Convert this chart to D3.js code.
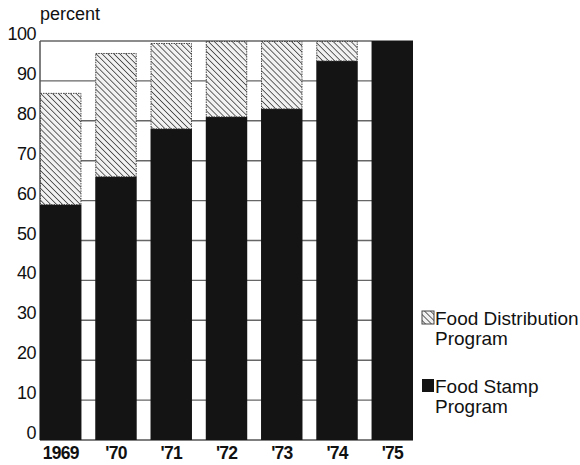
<!DOCTYPE html>
<html>
<head>
<meta charset="utf-8">
<script src="https://cdn.jsdelivr.net/npm/d3@7"></script>
<style>
  html, body { margin: 0; padding: 0; background: #fff; }
  svg { display: block; }
  text { font-family: "Liberation Sans", Arial, Helvetica, sans-serif; fill: #111; }
</style>
</head>
<body>
<svg id="chart" width="580" height="465"></svg>
<script>
const years = ["1969", "'70", "'71", "'72", "'73", "'74", "'75"];
const foodStamp = [59, 66, 78, 81, 83, 95, 100];
const foodDistribution = [28, 31, 21.5, 19, 17, 5, 0];
const yTicks = [0, 10, 20, 30, 40, 50, 60, 70, 80, 90, 100];
const legendLabels = [["Food Distribution", "Program"], ["Food Stamp", "Program"]];

const svg = d3.select("#chart");
const plotLeft = 40, plotRight = 413, plotTop = 41, plotBottom = 440;

const x = d3.scaleBand().domain(years).range([plotLeft, plotRight]).paddingInner(0.25).paddingOuter(0);
const y = d3.scaleLinear().domain([0, 100]).range([plotBottom, plotTop]);

// hatch pattern
const defs = svg.append("defs");
const pat = defs.append("pattern")
  .attr("id", "hatch").attr("patternUnits", "userSpaceOnUse")
  .attr("width", 4.2).attr("height", 4.2)
  .attr("patternTransform", "rotate(-45)");
pat.append("rect").attr("width", 4.2).attr("height", 4.2).attr("fill", "#f2f2f2");
pat.append("line").attr("x1", 0).attr("y1", 0).attr("x2", 0).attr("y2", 4.2)
  .attr("stroke", "#4a4a4a").attr("stroke-width", 1.7);

// gridlines
svg.append("g").selectAll("line").data(yTicks.filter(d => d > 0)).join("line")
  .attr("x1", plotLeft).attr("x2", plotRight)
  .attr("y1", d => y(d)).attr("y2", d => y(d))
  .attr("stroke", "#666").attr("stroke-width", 1.4);

// axis lines
svg.append("line").attr("x1", plotLeft).attr("x2", plotLeft).attr("y1", y(100)).attr("y2", plotBottom)
  .attr("stroke", "#555").attr("stroke-width", 1.5);
svg.append("line").attr("x1", plotLeft).attr("x2", plotRight).attr("y1", plotBottom).attr("y2", plotBottom)
  .attr("stroke", "#555").attr("stroke-width", 1.5);

// bars
const g = svg.append("g");
g.selectAll("rect.stamp").data(years).join("rect").attr("class", "stamp")
  .attr("x", d => x(d)).attr("width", x.bandwidth())
  .attr("y", (d, i) => y(foodStamp[i]))
  .attr("height", (d, i) => y(0) - y(foodStamp[i]))
  .attr("fill", "#141414");
g.selectAll("rect.dist").data(years.filter((d, i) => foodDistribution[i] > 0)).join("rect").attr("class", "dist")
  .attr("x", d => x(d) + 0.5).attr("width", x.bandwidth() - 1)
  .attr("y", d => { const i = years.indexOf(d); return y(foodStamp[i] + foodDistribution[i]) + 0.5; })
  .attr("height", d => { const i = years.indexOf(d); return y(foodStamp[i]) - y(foodStamp[i] + foodDistribution[i]) - 0.5; })
  .attr("fill", "url(#hatch)").attr("stroke", "#444").attr("stroke-width", 1)
  .attr("stroke-dasharray", "1.5,1");

// y tick labels
svg.append("g").selectAll("text").data(yTicks).join("text")
  .attr("x", 36).attr("y", d => y(d) - 1)
  .attr("text-anchor", "end").attr("font-size", 18).attr("letter-spacing", -0.5)
  .text(d => d);

svg.append("text").attr("x", 40).attr("y", 20).attr("font-size", 18).text("percent");

// x labels
svg.append("g").selectAll("text").data(years).join("text")
  .attr("x", d => x(d) + x.bandwidth() / 2).attr("y", 459)
  .attr("text-anchor", "middle").attr("font-size", 17.5).attr("letter-spacing", -0.8)
  .style("font-weight", 600)
  .text(d => d);

// legend
const legY = [311, 379];
const legFill = ["url(#hatch)", "#141414"];
legendLabels.forEach((lines, k) => {
  svg.append("rect").attr("x", 422).attr("y", legY[k]).attr("width", 12).attr("height", 13)
    .attr("fill", legFill[k]).attr("stroke", k === 0 ? "#444" : "none").attr("stroke-width", 1);
  lines.forEach((t, j) => {
    svg.append("text").attr("x", 435).attr("y", legY[k] + 14 + j * 20)
      .attr("font-size", 19).text(t);
  });
});
</script>
</body>
</html>
